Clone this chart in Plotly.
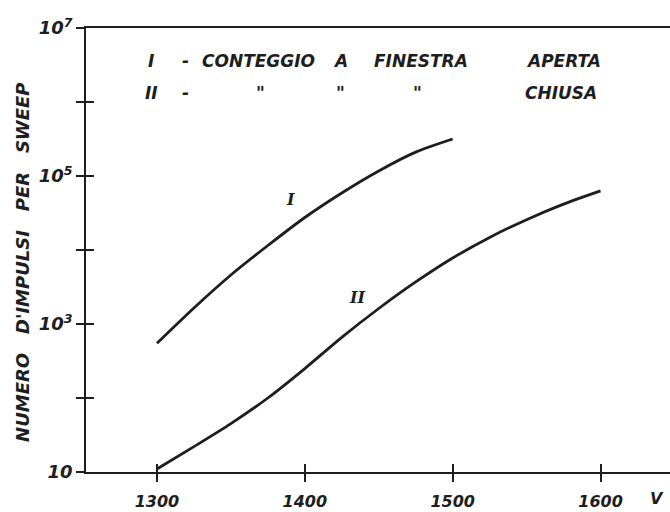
import plotly.graph_objects as go

# Counts per sweep versus photomultiplier voltage
volts_I = [1300, 1325, 1350, 1375, 1400, 1425, 1450, 1475, 1500]
counts_I = [550, 1650, 4600, 11500, 27500, 59000, 117000, 210000, 316000]

volts_II = [1300, 1325, 1350, 1375, 1400, 1425, 1450, 1475, 1500, 1525, 1550, 1575, 1600]
counts_II = [11, 22, 45, 100, 250, 660, 1620, 3700, 7800, 14800, 25700, 41700, 63000]

x_ticks = [1300, 1400, 1500, 1600]
y_label_vals = [10, 1e3, 1e5, 1e7]
y_label_text = ["10", "10<sup>3</sup>", "10<sup>5</sup>", "10<sup>7</sup>"]
y_plain_vals = [1e2, 1e4, 1e6]
y_cross_vals = [1e2, 1e3, 1e4, 1e5, 1e6]

INK = "#1e1e1e"
FONT = "DejaVu Sans"

fig = go.Figure()
for xs, ys in ((volts_I, counts_I), (volts_II, counts_II)):
    fig.add_trace(go.Scatter(
        x=xs, y=ys, mode="lines",
        line=dict(color=INK, width=2.8, shape="spline", smoothing=0.8),
        showlegend=False, hoverinfo="skip",
    ))

# invisible point on the overlay axes, which carry the inner half of the cross ticks
fig.add_trace(go.Scatter(x=[1300], y=[10], xaxis="x2", yaxis="y2", mode="markers",
                         marker=dict(opacity=0), showlegend=False, hoverinfo="skip"))

x_range = [1252, 1647]
y_range = [1, 7]

fig.update_layout(
    width=670, height=512,
    margin=dict(l=86, r=0, t=28, b=40),
    paper_bgcolor="white", plot_bgcolor="white",
    xaxis=dict(
        range=x_range, tickvals=x_ticks, ticks="outside", ticklen=8, tickwidth=1.6,
        tickcolor=INK, showline=True, linecolor=INK, linewidth=1.8, mirror=True,
        showgrid=False, zeroline=False, ticklabelstandoff=6,
        tickfont=dict(family=FONT, size=16, color=INK, style="italic", weight="bold"),
    ),
    yaxis=dict(
        type="log", range=y_range, tickvals=y_label_vals, ticktext=y_label_text,
        ticks="outside", ticklen=8, tickwidth=1.6, tickcolor=INK,
        minor=dict(tickvals=y_plain_vals, ticks="outside", ticklen=8,
                   tickwidth=1.6, tickcolor=INK, showgrid=False),
        showline=True, linecolor=INK, linewidth=1.8, showgrid=False, zeroline=False,
        tickfont=dict(family=FONT, size=18, color=INK, style="italic", weight="bold"),
    ),
    xaxis2=dict(
        overlaying="x", anchor="y", range=x_range, tickvals=x_ticks,
        ticks="inside", ticklen=8, tickwidth=1.6, tickcolor=INK,
        showticklabels=False, showline=False, showgrid=False, zeroline=False,
    ),
    yaxis2=dict(
        overlaying="y", anchor="x", type="log", range=y_range,
        tickvals=y_cross_vals, ticks="inside", ticklen=8,
        tickwidth=1.6, tickcolor=INK, showticklabels=False, showline=False,
        showgrid=False, zeroline=False,
    ),
)

text_font = dict(family=FONT, size=17, color=INK, style="italic", weight="bold")

# key written in the upper part of the plot
key_rows = [
    (0.926, [(0.111, "I"), (0.171, "-"), (0.296, "CONTEGGIO"), (0.435, "A"),
             (0.574, "FINESTRA"), (0.818, "APERTA")]),
    (0.854, [(0.113, "II"), (0.171, "-"), (0.298, "\""), (0.435, "\""),
             (0.568, "\""), (0.813, "CHIUSA")]),
]
for yp, words in key_rows:
    for xp, word in words:
        fig.add_annotation(x=xp, y=yp, xref="paper", yref="paper", text=word,
                           showarrow=False, font=text_font,
                           xanchor="center", yanchor="middle")

# curve labels
label_font = dict(family="DejaVu Serif", size=16, color=INK, style="italic", weight="bold")
fig.add_annotation(x=1390, y=4.68, text="I", showarrow=False, font=label_font)
fig.add_annotation(x=1435, y=3.36, text="II", showarrow=False, font=label_font)

# unit at the end of the x axis
fig.add_annotation(x=0.978, y=-0.0586, xref="paper", yref="paper", text="V",
                   showarrow=False,
                   font=dict(family=FONT, size=16, color=INK, style="italic", weight="bold"),
                   xanchor="center", yanchor="middle")

# y-axis title
gap = "\u00a0" * 3
fig.add_annotation(x=-0.108, y=0.473, xref="paper", yref="paper",
                   text=gap.join(["NUMERO", "D'IMPULSI", "PER", "SWEEP"]),
                   textangle=-90, showarrow=False,
                   font=dict(family=FONT, size=18, color=INK, style="italic", weight="bold"),
                   xanchor="center", yanchor="middle")

fig.write_html("out.html")
